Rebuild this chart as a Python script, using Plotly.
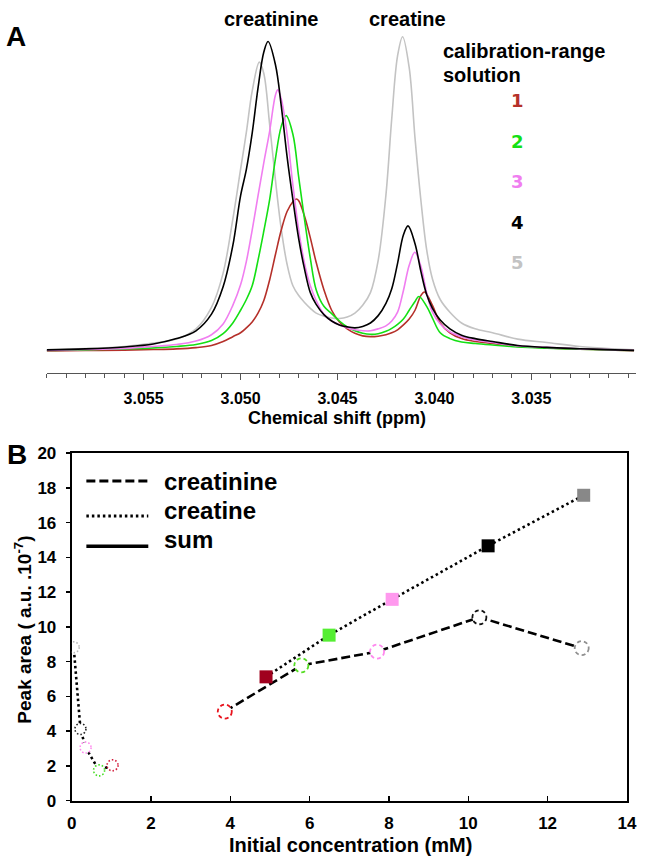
import plotly.graph_objects as go

# ---------------- Panel A data: 1H NMR spectra (chemical shift in ppm, intensity a.u.) ----------------
shift_1 = [3.0600, 3.0580, 3.0560, 3.0545, 3.0533, 3.0523, 3.0515, 3.0509, 3.0504, 3.0500,
           3.0497, 3.0494, 3.0491, 3.0488, 3.0485, 3.0482, 3.0479, 3.0476, 3.0473, 3.04712, 3.0470,
           3.0467, 3.0464, 3.0461, 3.0457, 3.0453, 3.0449, 3.0445, 3.0441, 3.0437, 3.0433,
           3.0429, 3.0425, 3.0422, 3.0419, 3.0416, 3.0413, 3.0410, 3.0407, 3.04051, 3.0401,
           3.0397, 3.0392, 3.0386, 3.0379, 3.0370, 3.0357, 3.0342, 3.0325, 3.0307, 3.0297]
int_1 = [0.5, 0.8, 1.2, 1.8, 2.5, 3.8, 6, 10, 15, 19,
         24, 30, 39, 52, 73, 99, 124, 143, 153, 155.7, 154,
         138, 116, 91, 63, 42, 30, 23, 18.5, 15.8, 15,
         15.5, 17, 19, 22, 27, 33, 42, 57, 60.7, 47,
         29, 19, 13, 10, 8, 5, 3.5, 2.2, 1.2, 0.7]

shift_2 = [3.0600, 3.0580, 3.0560, 3.0545, 3.0533, 3.0523, 3.0515, 3.0509, 3.0504, 3.0500,
           3.0497, 3.0494, 3.0491, 3.0488, 3.0485, 3.0482, 3.0479, 3.04765, 3.0473, 3.0470,
           3.0467, 3.0464, 3.0461, 3.0457, 3.0453, 3.0449, 3.0445, 3.0441, 3.0437, 3.0433,
           3.0429, 3.0425, 3.0422, 3.0419, 3.0416, 3.0413, 3.0410, 3.04080, 3.0404, 3.0401,
           3.0397, 3.0392, 3.0386, 3.0379, 3.0370, 3.0357, 3.0342, 3.0325, 3.0307, 3.0297]
int_2 = [0.8, 1.5, 2.5, 3.5, 5, 7, 11, 18, 29, 42,
         53, 67, 93, 123, 155, 197, 230, 241, 222, 178,
         135, 95, 63, 46, 38.5, 31, 25, 21, 18.5, 17.4,
         18, 20.5, 23.5, 27.5, 33, 42, 51, 56, 46, 34,
         19, 13, 9.5, 8, 6.5, 4.5, 3.2, 2.2, 1.2, 0.8]

shift_3 = [3.0600, 3.0580, 3.0560, 3.0545, 3.0533, 3.0523, 3.0515, 3.0509, 3.0504, 3.0500,
           3.0497, 3.0494, 3.0491, 3.0488, 3.0485, 3.0482, 3.04808, 3.0479, 3.0476, 3.0473, 3.0470,
           3.0467, 3.0464, 3.0461, 3.0457, 3.0453, 3.0449, 3.0445, 3.0441, 3.0437, 3.0433,
           3.0429, 3.0425, 3.0422, 3.0419, 3.0416, 3.0413, 3.04101, 3.0407, 3.0404, 3.0401,
           3.0397, 3.0392, 3.0386, 3.0379, 3.0370, 3.0357, 3.0342, 3.0325, 3.0307, 3.0297]
int_3 = [1, 1.8, 3, 5, 7, 10.5, 17, 28, 47, 68,
         92, 124, 159, 193, 225, 262, 267.3, 258, 222, 170, 124,
         90, 67, 52, 38, 31, 27, 24, 22, 21, 21,
         23, 26, 31, 40, 62, 88, 101.3, 87, 60, 40,
         28, 20, 15, 11.5, 9, 5.5, 4, 2.5, 1.5, 1]

shift_4 = [3.0600, 3.0580, 3.0560, 3.0545, 3.0533, 3.0523, 3.0515, 3.0509, 3.0504, 3.0500,
           3.0497, 3.0494, 3.0491, 3.0488, 3.04858, 3.0482, 3.0479, 3.0476, 3.0473, 3.0470,
           3.0467, 3.0464, 3.0461, 3.0457, 3.0453, 3.0449, 3.0445, 3.0441, 3.0437, 3.0433,
           3.0429, 3.0425, 3.0422, 3.0419, 3.0416, 3.04136, 3.0410, 3.0407, 3.0404, 3.0401,
           3.0397, 3.0392, 3.0386, 3.0379, 3.0370, 3.0357, 3.0342, 3.0325, 3.0307, 3.0297]
int_4 = [1.5, 2.5, 4.5, 7.5, 13, 21, 38, 66, 108, 159,
         186, 223, 269, 306, 316.7, 293, 251, 199, 155, 115,
         84, 60, 48, 37.5, 31, 27, 25, 24, 25.5, 29,
         36.5, 49, 64, 90, 119, 128.3, 110, 82, 58, 44,
         32, 23, 16.5, 13, 10, 6, 4, 2.7, 1.5, 1]

shift_5 = [3.0600, 3.0580, 3.0560, 3.0545, 3.0533, 3.0523, 3.0515, 3.0509, 3.0504, 3.0500,
           3.0497, 3.0494, 3.04903, 3.0488, 3.0485, 3.0482, 3.0479, 3.0476, 3.0473, 3.0470,
           3.0467, 3.0464, 3.0461, 3.0457, 3.0453, 3.0449, 3.0445, 3.0441, 3.0437, 3.0433,
           3.0429, 3.0425, 3.0422, 3.0419, 3.04164, 3.0413, 3.0410, 3.0407, 3.0404, 3.0401,
           3.0397, 3.0392, 3.0386, 3.0379, 3.0370, 3.0357, 3.0342, 3.0325, 3.0307, 3.0297]
int_5 = [1.5, 2.8, 5, 8.5, 12.5, 23, 45, 80, 135, 186,
         224, 266, 295.7, 284, 232, 175, 125, 89, 67, 57,
         50, 44, 39, 36, 34, 33.5, 35, 39, 47, 60,
         93, 160, 238, 302, 321.7, 290, 218, 155, 104, 74,
         53, 40, 29, 23, 19, 12.5, 9, 5, 2.5, 1.5]

solution_labels = ["1", "2", "3", "4", "5"]
spectrum_colors = ["#b5302a", "#14e014", "#f07ef0", "#000000", "#c3c3c3"]
shift_ticks = [3.055, 3.050, 3.045, 3.040, 3.035]

# ---------------- Panel B data: peak areas vs initial concentration ----------------
creatinine_conc = [3.86, 5.79, 7.70, 10.28, 12.86]
creatinine_area = [5.12, 7.78, 8.57, 10.55, 8.77]
creatine_conc = [1.03, 0.69, 0.35, 0.22, 0.05]
creatine_area = [2.03, 1.74, 3.05, 4.12, 8.82]
sum_conc = [4.90, 6.49, 8.08, 10.50, 12.91]
sum_area = [7.12, 9.52, 11.58, 14.66, 17.57]

creatinine_marker_colors = ["#e8141e", "#55dd22", "#ff88ee", "#111111", "#909090"]
creatine_marker_colors = ["#d21a3a", "#44dd22", "#ff88ee", "#222222", "#b8b8b8"]
sum_marker_colors = ["#a0001e", "#55ee33", "#ff99ee", "#000000", "#888888"]

W, H = 646, 867
FONT = "Liberation Sans, Arial, Helvetica, sans-serif"


def fx(p):
    return p / W


def fy(p):
    return 1 - p / H


fig = go.Figure()

spectra = [(shift_5, int_5, 4), (shift_1, int_1, 0), (shift_2, int_2, 1),
           (shift_3, int_3, 2), (shift_4, int_4, 3)]
for xs, ys, ci in spectra:
    fig.add_trace(go.Scatter(x=xs, y=ys, mode="lines", xaxis="x", yaxis="y",
                             line=dict(color=spectrum_colors[ci], width=1.6, shape="spline", smoothing=1.0),
                             hoverinfo="skip", showlegend=False))

# Panel B traces (white marker discs hide the line under the dashed/dotted outlines)
fig.add_trace(go.Scatter(x=creatinine_conc, y=creatinine_area, mode="lines+markers", xaxis="x2", yaxis="y2",
                         line=dict(color="black", width=2.6, dash="9px,4px"),
                         marker=dict(symbol="circle", size=14, color="white", line=dict(width=0)),
                         cliponaxis=False, showlegend=False))
fig.add_trace(go.Scatter(x=creatine_conc, y=creatine_area, mode="lines+markers", xaxis="x2", yaxis="y2",
                         line=dict(color="black", width=2.6, dash="2.5px,3px"),
                         marker=dict(symbol="circle", size=11, color="white", line=dict(width=0)),
                         cliponaxis=False, showlegend=False))
fig.add_trace(go.Scatter(x=sum_conc, y=sum_area, mode="lines+markers", xaxis="x2", yaxis="y2",
                         line=dict(color="black", width=2.6, dash="2.5px,3px"),
                         marker=dict(symbol="square", size=13, color=sum_marker_colors, line=dict(width=0)),
                         cliponaxis=False, showlegend=False))

bold17 = dict(family=FONT, size=17, color="black", weight="bold")

fig.update_layout(
    width=W, height=H, margin=dict(l=0, r=0, t=0, b=0),
    paper_bgcolor="white", plot_bgcolor="white", showlegend=False,
    xaxis=dict(domain=[fx(42.7), 1.0], range=[3.0600, 3.0296], anchor="y",
               showgrid=False, zeroline=False, showline=True, linecolor="#555", linewidth=1,
               ticks="outside", ticklen=6, tickcolor="#555", tickwidth=1,
               tickmode="array", tickvals=shift_ticks, ticktext=[f"{v:.3f}" for v in shift_ticks],
               tickfont=dict(family=FONT, size=16, color="black", weight="bold"), ticklabelstandoff=5,
               ticklabeloverflow="allow",
               minor=dict(tickmode="linear", tick0=3.0, dtick=0.001, ticks="outside",
                          ticklen=4, tickcolor="#555", tickwidth=1, showgrid=False)),
    yaxis=dict(domain=[fy(372), fy(20)], range=[-22, 330], visible=False, anchor="x"),
    xaxis2=dict(domain=[fx(68.3), fx(636.7)], range=[0, 14], anchor="y2",
                tickmode="linear", tick0=0, dtick=2,
                showgrid=False, zeroline=False, showline=True, mirror=True,
                linecolor="black", linewidth=2, ticks="inside", ticklen=5, tickwidth=1.5,
                tickcolor="black", tickfont=bold17, ticklabelstandoff=6, ticklabeloverflow="allow"),
    yaxis2=dict(domain=[fy(809.3), fy(454)], range=[0, 20], anchor="x2",
                tickmode="linear", tick0=0, dtick=2,
                showgrid=False, zeroline=False, showline=True, mirror=True,
                linecolor="black", linewidth=2, ticks="outside", ticklen=4, tickwidth=1.5,
                tickcolor="black", tickfont=bold17, ticklabelstandoff=6, ticklabeloverflow="allow"),
)

ann = []


def add_text(text, x, y, size, xanchor="center", yanchor="middle", color="black", family=FONT, angle=0):
    ann.append(dict(text=text, x=fx(x), y=fy(y), xref="paper", yref="paper",
                    xanchor=xanchor, yanchor=yanchor, showarrow=False, textangle=angle,
                    font=dict(family=family, size=size, color=color, weight="bold")))


add_text("A", 11, 28, 28)
add_text("creatinine", 272, 10, 20)
add_text("creatine", 412, 10, 20)
add_text("calibration-range", 446, 43, 20, xanchor="left")
add_text("solution", 446, 67, 20, xanchor="left")
for lab, col, yy in zip(solution_labels, spectrum_colors, [94, 135, 176.7, 218.3, 259.3]):
    add_text(lab, 525, yy, 18, color=col, family="DejaVu Sans, sans-serif")
add_text("Chemical shift (ppm)", 340, 418, 18)

add_text("B", 12.5, 455, 28)
add_text("creatinine", 161, 483, 24, xanchor="left")
add_text("creatine", 161, 513, 24, xanchor="left")
add_text("sum", 161, 542, 24, xanchor="left")
add_text("Initial concentration (mM)", 354, 855, 20)
add_text("Peak area ( a.u. .10<sup>-7</sup>)", 19, 635, 19, angle=-90)

fig.update_layout(annotations=ann)

shapes = [
    dict(type="line", xref="paper", yref="paper", x0=fx(83.3), x1=fx(146.7), y0=fy(482.7), y1=fy(482.7),
         line=dict(color="black", width=3, dash="9px,4px")),
    dict(type="line", xref="paper", yref="paper", x0=fx(83.3), x1=fx(146.7), y0=fy(518.3), y1=fy(518.3),
         line=dict(color="black", width=3, dash="2.5px,3px")),
    dict(type="line", xref="paper", yref="paper", x0=fx(83.3), x1=fx(146.7), y0=fy(549.3), y1=fy(549.3),
         line=dict(color="black", width=3.5)),
]
# dashed / dotted open-circle outlines anchored on the data points
for xv, yv, col in zip(creatinine_conc, creatinine_area, creatinine_marker_colors):
    shapes.append(dict(type="circle", xref="x2", yref="y2", xsizemode="pixel", ysizemode="pixel",
                       xanchor=xv, yanchor=yv, x0=-7, x1=7, y0=-7, y1=7, layer="above",
                       line=dict(color=col, width=1.8, dash="4px,3px")))
for xv, yv, col in zip(creatine_conc, creatine_area, creatine_marker_colors):
    shapes.append(dict(type="circle", xref="x2", yref="y2", xsizemode="pixel", ysizemode="pixel",
                       xanchor=xv, yanchor=yv, x0=-5.5, x1=5.5, y0=-5.5, y1=5.5, layer="above",
                       line=dict(color=col, width=1.6, dash="1.5px,2px")))
fig.update_layout(shapes=shapes)

fig.write_html("out.html", config={"displayModeBar": False, "staticPlot": True},
               post_script="document.body.style.margin='0px';document.body.style.overflow='hidden';")
